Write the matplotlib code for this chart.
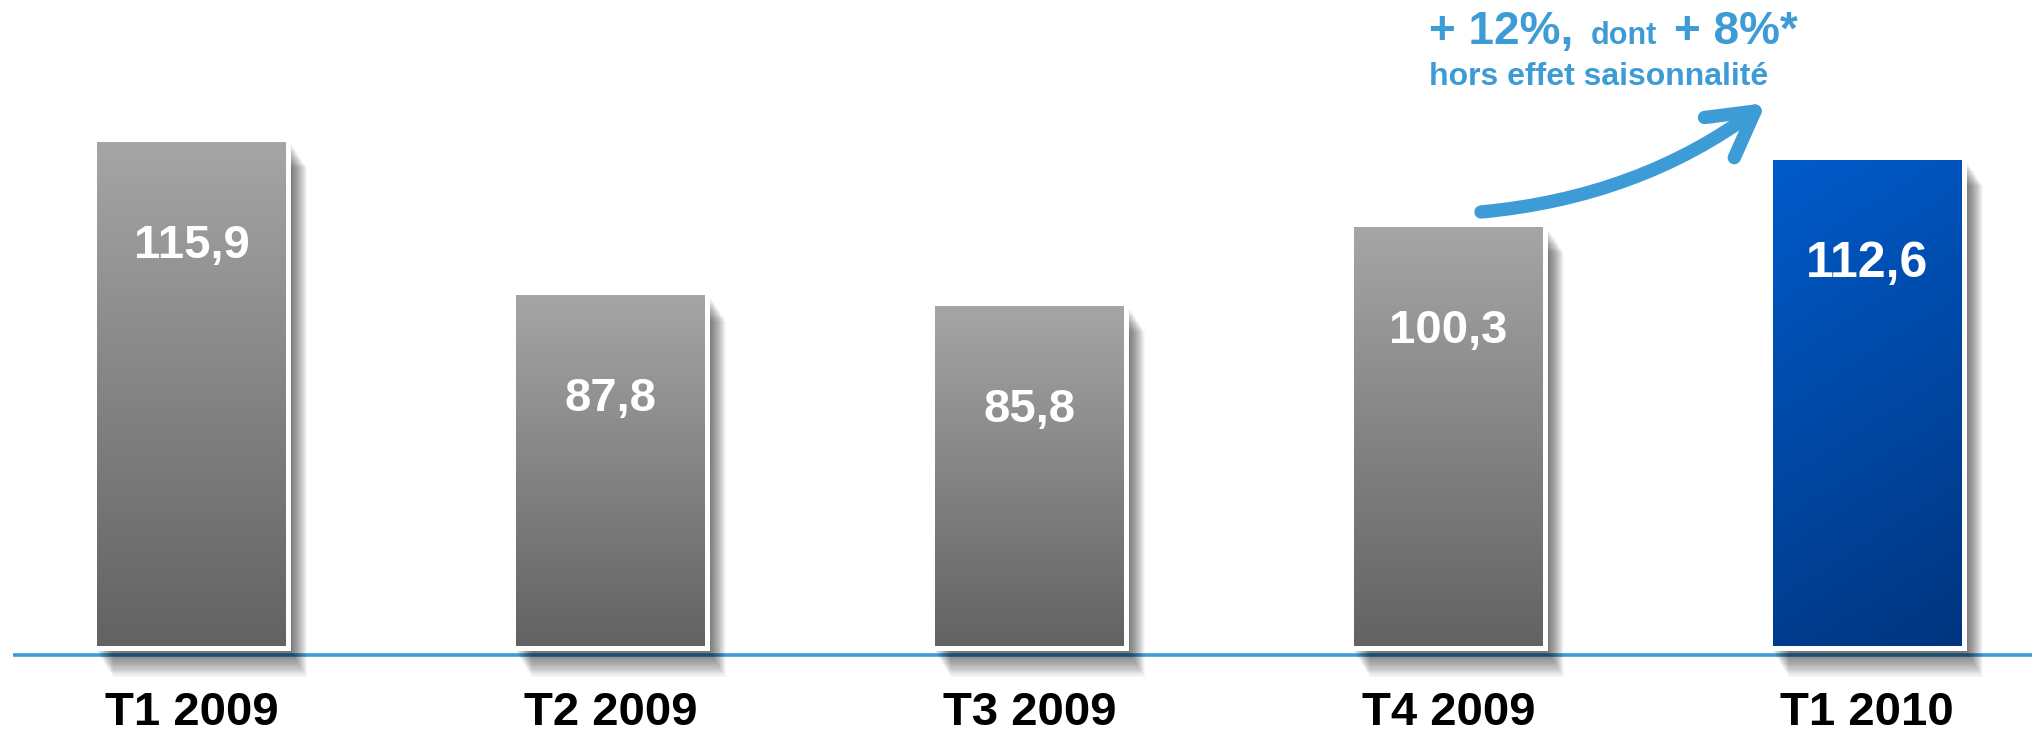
import numpy as np
import matplotlib
matplotlib.use("Agg")
import matplotlib.pyplot as plt
import matplotlib.patheffects as pe
from matplotlib.colors import LinearSegmentedColormap
from matplotlib.patches import FancyArrowPatch

plt.rcParams['font.family'] = ['Liberation Sans', 'DejaVu Sans']

quarters = ["T1 2009", "T2 2009", "T3 2009", "T4 2009", "T1 2010"]
revenue = [115.9, 87.8, 85.8, 100.3, 112.6]
value_labels = ["115,9", "87,8", "85,8", "100,3", "112,6"]
highlight = "T1 2010"

growth_main = "+ 12%,"
growth_mid = "dont"
growth_sub = "+ 8%*"
growth_note = "hors effet saisonnalité"

accent = "#3D9BD6"
gray_cmap = LinearSegmentedColormap.from_list("gray_bar", ["#A6A6A6", "#626262"])
blue_cmap = LinearSegmentedColormap.from_list("blue_bar", ["#005BCB", "#00357F"])

W, H = 2032, 732
fig = plt.figure(figsize=(W / 100, H / 100), dpi=100)
ax = fig.add_axes([0, 0, 1, 1])
ax.axis("off")

base = 22.46          # value sitting on the baseline (axis does not start at 0)
bar_w = 0.463
x = np.arange(len(quarters))

# soft drop shadow: stacked offset copies
shadow = [pe.SimplePatchShadow(offset=(0.55 * k, -0.85 * k), shadow_rgbFace="black", alpha=0.032)
          for k in range(1, 25)] + [pe.Normal()]

heights = [v - base for v in revenue]
bars = ax.bar(x, heights, bottom=base, width=bar_w, color="white", linewidth=0,
              zorder=2, path_effects=shadow)

grad = np.linspace(0, 1, 256).reshape(-1, 1)
hgrad = np.linspace(0, 1, 64).reshape(1, -1)
for i, b in enumerate(bars):
    x0, x1 = b.get_x(), b.get_x() + b.get_width()
    if quarters[i] == highlight:
        img, cmap = 0.8 * grad + 0.2 * hgrad, blue_cmap
    else:
        img, cmap = grad, gray_cmap
    im = ax.imshow(img, extent=[x0, x1, base, revenue[i]], cmap=cmap, vmin=0, vmax=1,
                   aspect="auto", zorder=3, interpolation="bilinear")
    im.set_clip_path(b)

ax.bar(x, heights, bottom=base, width=bar_w, fill=False, edgecolor="white",
       linewidth=3.6, zorder=4)

ax.hlines(base - 1.28, -0.426, 4.5, color=accent, linewidth=2.6, zorder=1)

for i, v in enumerate(revenue):
    size = 36 if quarters[i] == highlight else 34
    ax.annotate(value_labels[i], xy=(i, v), xytext=(0, -77), textcoords="offset points",
                ha="center", va="center", color="white", fontsize=size, fontweight="bold",
                zorder=5)

for i, q in enumerate(quarters):
    ax.text(i, 0.026, q, transform=ax.get_xaxis_transform(), ha="center", va="center",
            fontsize=34, fontweight="bold", color="black")

ax.set_xlim(-0.457, 4.393)
ax.set_ylim(7.14, 141.43)

# growth callout (figure pixel coordinates, origin bottom-left)
fig.text(1429 / W, 1 - 44 / H, growth_main, color=accent, fontsize=33, fontweight="bold",
         ha="left", va="baseline")
fig.text(1591 / W, 1 - 44 / H, growth_mid, color=accent, fontsize=22, fontweight="bold",
         ha="left", va="baseline")
fig.text(1674 / W, 1 - 44 / H, growth_sub, color=accent, fontsize=33, fontweight="bold",
         ha="left", va="baseline")
fig.text(1429 / W, 1 - 85 / H, growth_note, color=accent, fontsize=23, fontweight="bold",
         ha="left", va="baseline")

arrow = FancyArrowPatch((1481 / W, 1 - 212 / H), (1766 / W, 1 - 103 / H),
                        transform=fig.transFigure, connectionstyle="arc3,rad=0.14",
                        arrowstyle="->,head_length=32,head_width=18", mutation_scale=1,
                        color=accent, linewidth=9.6, capstyle="round", joinstyle="round",
                        shrinkA=0, shrinkB=0)
fig.add_artist(arrow)

fig.savefig("out.png", dpi=100, facecolor="white")
